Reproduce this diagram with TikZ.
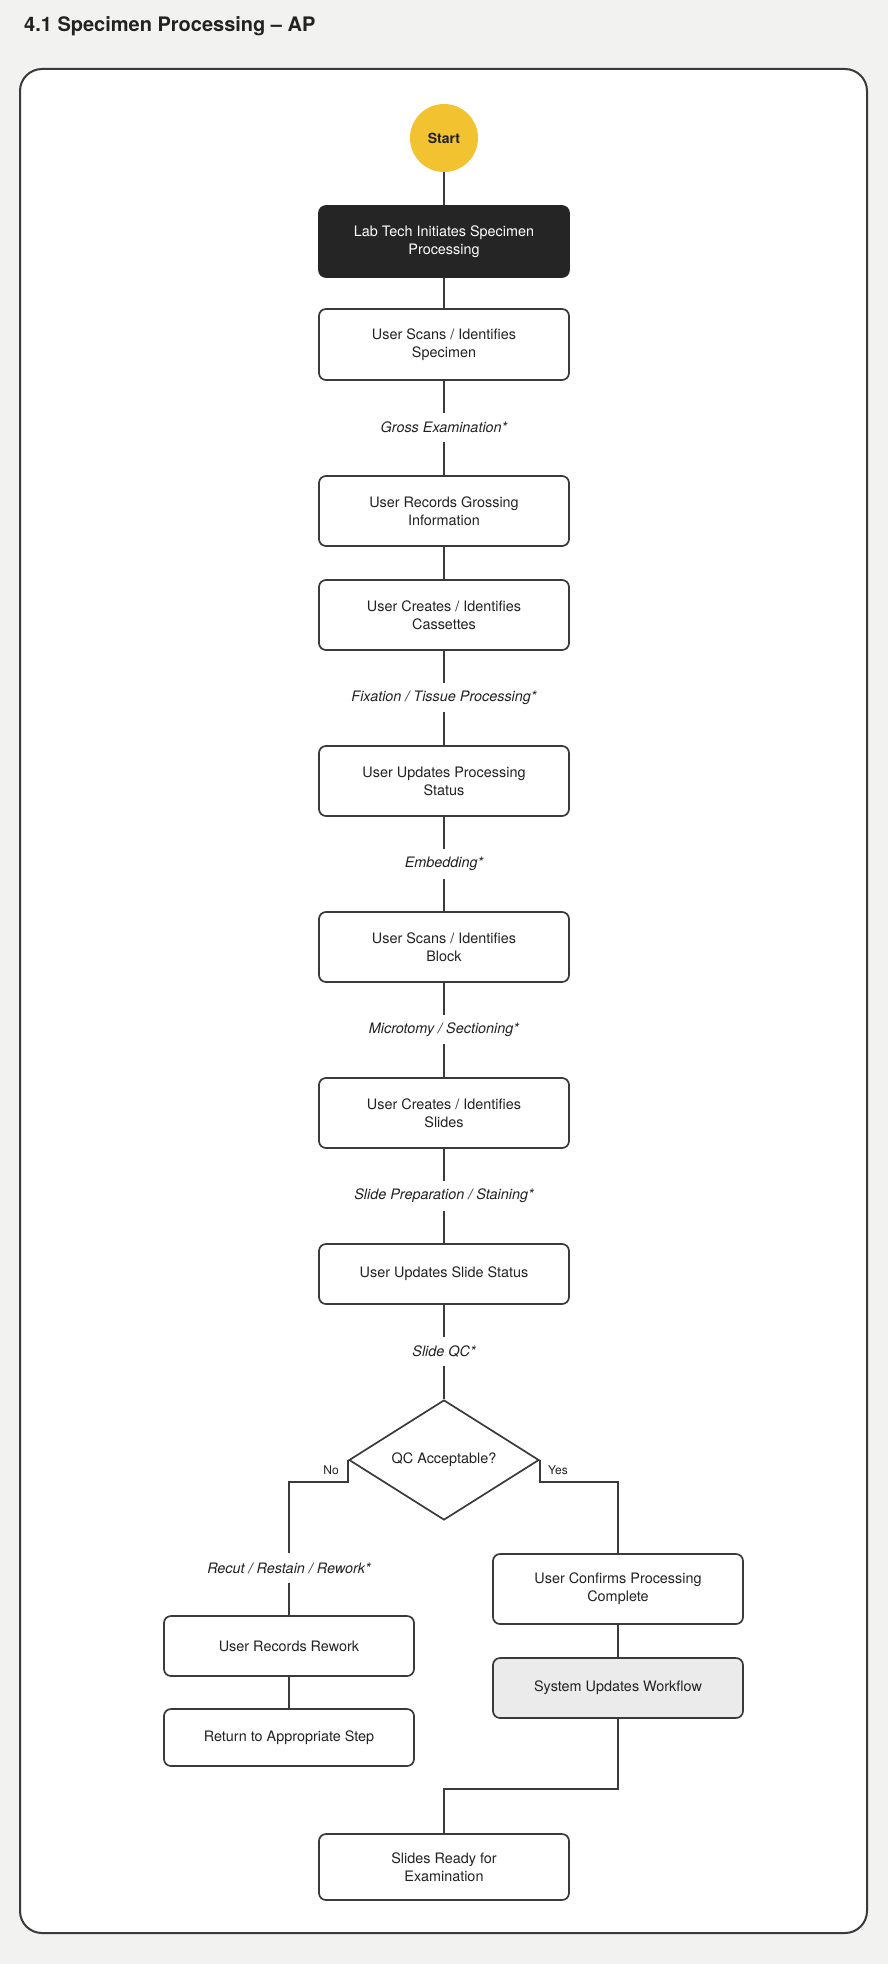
\documentclass[tikz,border=0pt]{standalone}
\usepackage{fontspec}
\setmainfont{TeX Gyre Heros}
\usetikzlibrary{shapes.geometric}
\definecolor{bgc}{HTML}{F2F2F0}
\definecolor{ink}{HTML}{222222}
\definecolor{edge}{HTML}{3A3A3A}
\definecolor{gold}{HTML}{F2C230}
\definecolor{darkbox}{HTML}{252525}
\definecolor{greybox}{HTML}{EBEBEB}
\begin{document}
\begin{tikzpicture}[x=1pt,y=-1pt,
  every node/.style={text=ink},
  boxstyle/.style={draw=edge, line width=1.7pt, rounded corners=7pt, fill=white,
    minimum width=250pt, inner sep=0pt, align=center,
    font=\fontsize{14.4}{18}\selectfont},
  steplabel/.style={inner sep=0pt, minimum height=29pt, fill=none,
    font=\fontsize{14.4}{18}\selectfont\itshape},
  branchlabel/.style={inner sep=0pt, font=\fontsize{12}{14}\selectfont},
  conn/.style={draw=edge, line width=1.8pt}
]
\useasboundingbox (0,0) rectangle (888,1964);
\fill[bgc] (0,0) rectangle (888,1964);
\node[anchor=base west, inner sep=0pt, font=\fontsize{20}{24}\selectfont\bfseries] (title) at (24,32) {4.1 Specimen Processing -- AP};
\draw[draw=edge, line width=2pt, fill=white, rounded corners=22pt] (20,69) rectangle (867,1933);

\node[circle, fill=gold, minimum size=68pt, inner sep=0pt, font=\fontsize{14}{16}\selectfont\bfseries] (start) at (444,138) {Start};
\node[boxstyle, fill=darkbox, draw=darkbox, text=white, minimum height=71pt] (lab) at (444,241.5) {Lab Tech Initiates Specimen\\Processing};
\node[boxstyle, minimum height=71pt] (scan) at (444,344.5) {User Scans / Identifies\\Specimen};
\node[steplabel] (l1) at (444,427.5) {Gross Examination*};
\node[boxstyle, minimum height=70pt] (gross) at (444,511) {User Records Grossing\\Information};
\node[boxstyle, minimum height=70pt] (cass) at (444,615) {User Creates / Identifies\\Cassettes};
\node[steplabel] (l2) at (444,697.5) {Fixation / Tissue Processing*};
\node[boxstyle, minimum height=70pt] (proc) at (444,781) {User Updates Processing\\Status};
\node[steplabel] (l3) at (444,864) {Embedding*};
\node[boxstyle, minimum height=70pt] (block) at (444,947) {User Scans / Identifies\\Block};
\node[steplabel] (l4) at (444,1029.5) {Microtomy / Sectioning*};
\node[boxstyle, minimum height=70pt] (slides) at (444,1113) {User Creates / Identifies\\Slides};
\node[steplabel] (l5) at (444,1196) {Slide Preparation / Staining*};
\node[boxstyle, minimum height=60pt] (sstat) at (444,1274) {User Updates Slide Status};
\node[steplabel] (l6) at (444,1351.5) {Slide QC*};
\node[diamond, draw=edge, line width=1.7pt, fill=white, minimum width=190pt, minimum height=120pt, inner sep=0pt, font=\fontsize{14.4}{18}\selectfont] (qc) at (444,1460) {QC Acceptable?};
\node[branchlabel] (no) at (331,1470) {No};
\node[branchlabel] (yes) at (558,1470) {Yes};
\node[steplabel] (l7) at (289,1568) {Recut / Restain / Rework*};
\node[boxstyle, minimum height=60pt] (rework) at (289,1646) {User Records Rework};
\node[boxstyle, minimum height=57pt] (ret) at (289,1737.5) {Return to Appropriate Step};
\node[boxstyle, minimum height=70pt] (confirm) at (618,1589) {User Confirms Processing\\Complete};
\node[boxstyle, fill=greybox, minimum height=60pt] (sys) at (618,1688) {System Updates Workflow};
\node[boxstyle, minimum height=66pt] (ready) at (444,1867) {Slides Ready for\\Examination};

\draw[conn] (start) -- (lab);
\draw[conn] (lab) -- (scan);
\draw[conn] (scan) -- (l1) -- (gross);
\draw[conn] (gross) -- (cass);
\draw[conn] (cass) -- (l2) -- (proc);
\draw[conn] (proc) -- (l3) -- (block);
\draw[conn] (block) -- (l4) -- (slides);
\draw[conn] (slides) -- (l5) -- (sstat);
\draw[conn] (sstat) -- (l6) -- (qc);
\draw[conn] (qc.west) -- ++(0,22) -| (l7) -- (rework);
\draw[conn] (rework) -- (ret);
\draw[conn] (qc.east) -- ++(0,22) -| (confirm);
\draw[conn] (confirm) -- (sys);
\draw[conn] (sys.south) -- ++(0,70) -| (ready.north);
\end{tikzpicture}
\end{document}
